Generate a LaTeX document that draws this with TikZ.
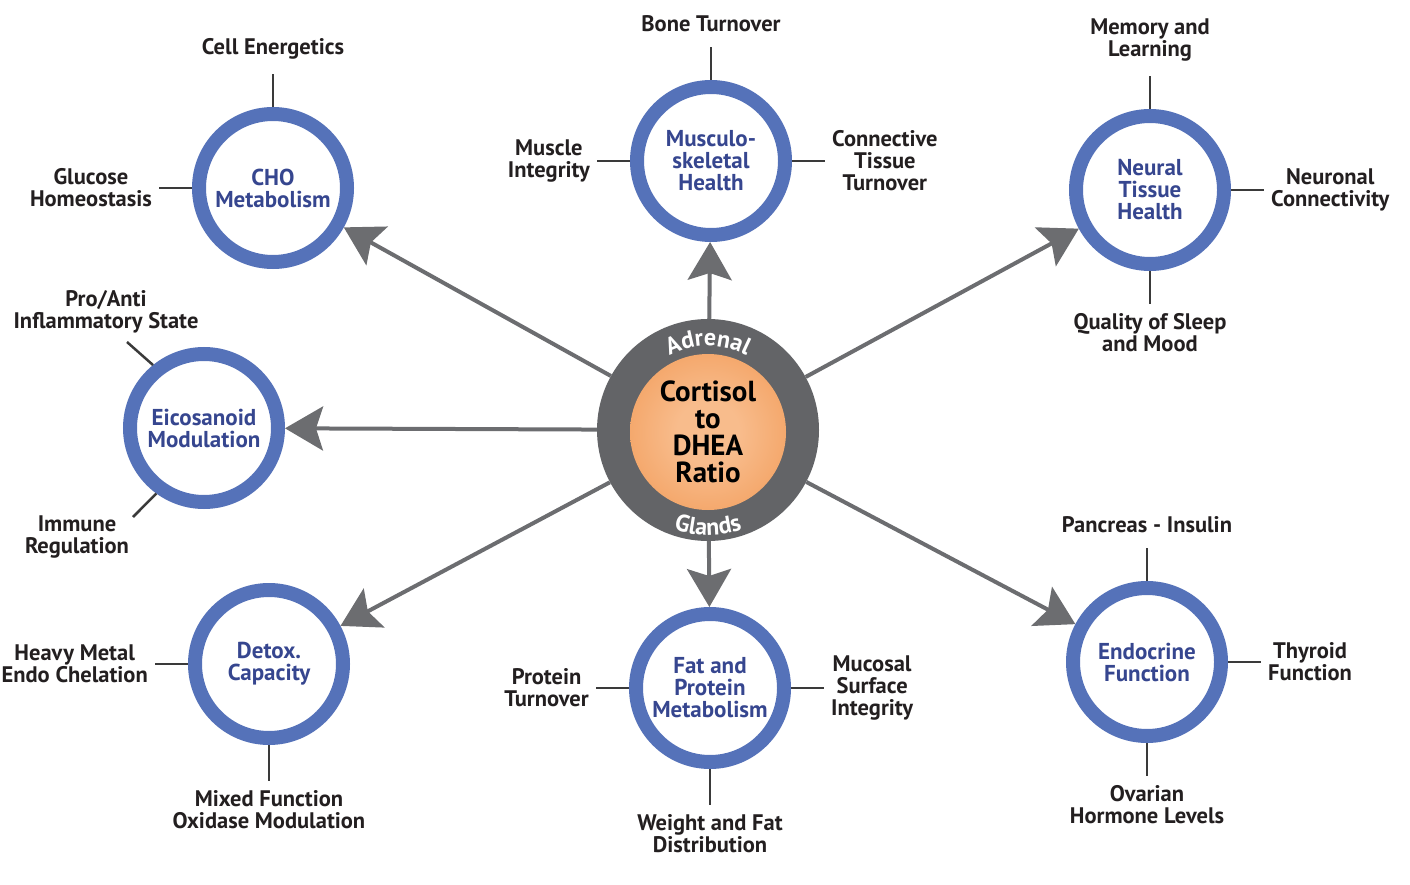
\documentclass[tikz,border=0pt]{standalone}
\usepackage{fontspec}
\setmainfont{PT Sans}
\usetikzlibrary{positioning,arrows.meta,decorations.text}

\definecolor{ringblue}{RGB}{85,114,185}
\definecolor{navy}{RGB}{54,70,143}
\definecolor{labelblack}{RGB}{35,31,32}
\definecolor{tickgray}{RGB}{58,58,58}
\definecolor{arrgray}{RGB}{108,109,112}
\definecolor{hubgray}{RGB}{99,100,103}
\definecolor{orangelt}{RGB}{248,188,140}
\definecolor{orangedk}{RGB}{238,136,58}
\pgfdeclareradialshading{orangeball}{\pgfpoint{0bp}{0bp}}{color(0bp)=(orangelt); color(10bp)=(orangelt); color(50bp)=(orangedk)}
\newcommand{\ringfont}{\fontsize{24}{24}\selectfont\bfseries\color{white}}

\begin{document}
\begin{tikzpicture}[x=1pt,y=1pt,node distance=33pt,
  sat/.style={circle,draw=ringblue,line width=14pt,minimum size=148pt,inner sep=0pt,align=center,text=navy,font=\fontsize{23}{22}\selectfont\bfseries},
  lbl/.style={align=center,inner xsep=7pt,inner ysep=9pt,text=labelblack,font=\fontsize{22.5}{22}\selectfont\bfseries},
  lbltop/.style={lbl,inner ysep=15pt},
  tick/.style={draw=tickgray,line width=2.5pt},
  arr/.style={draw=arrgray,line width=4pt,-{Stealth[length=38pt,width=44pt,inset=7pt]}}]
  \useasboundingbox (0,0) rectangle (1410,-885);

  \node[circle,fill=hubgray,minimum size=222pt,inner sep=0pt] (hub) at (708,-430) {};
  \node[circle,shading=orangeball,minimum size=156pt,inner sep=0pt,align=center,font=\fontsize{29}{27}\selectfont\bfseries] (ratio) at (708,-432) {Cortisol\\to\\DHEA\\Ratio};
  \path[decorate,decoration={text along path,text={|\ringfont|Adrenal},text align=center}] ([shift={(148:84)}]hub.center) arc[start angle=148,end angle=32,radius=84];
  \path[decorate,decoration={text along path,text={|\ringfont|Glands},text align=center}] ([shift={(212:105)}]hub.center) arc[start angle=212,end angle=328,radius=105];

  \node[sat] (cho) at (273,-188) {CHO\\Metabolism};
  \node[sat] (musc) at (711,-161) {Musculo-\\skeletal\\Health};
  \node[sat] (neural) at (1150,-190) {Neural\\Tissue\\Health};
  \node[sat] (eico) at (204,-428) {Eicosanoid\\Modulation};
  \node[sat] (detox) at (269,-664) {Detox.\\Capacity};
  \node[sat] (fatprot) at (710,-688) {Fat and\\Protein\\Metabolism};
  \node[sat] (endo) at (1147,-662) {Endocrine\\Function};

  \path (hub) edge[arr] (cho);
  \path (hub) edge[arr] (musc);
  \path (hub) edge[arr] (neural);
  \path (hub) edge[arr] (eico);
  \path (hub) edge[arr] (detox);
  \path (hub) edge[arr] (fatprot);
  \path (hub) edge[arr] (endo);

  \node[lbltop,above=of cho] (cellen) {Cell Energetics};
  \node[lbl,left=of cho] (glucose) {Glucose\\Homeostasis};
  \node[lbltop,above=of musc] (bone) {Bone Turnover};
  \node[lbl,left=of musc] (muscle) {Muscle\\Integrity};
  \node[lbl,right=of musc] (conntis) {Connective\\Tissue\\Turnover};
  \node[lbltop,above=of neural] (memory) {Memory and\\Learning};
  \node[lbl,right=of neural] (neuronal) {Neuronal\\Connectivity};
  \node[lbl,below=of neural] (sleep) {Quality of Sleep\\and Mood};
  \node[lbl] (proanti) at (106,-312) {Pro/Anti\\Inflammatory State};
  \node[lbl] (immune) at (77,-537) {Immune\\Regulation};
  \node[lbl,left=of detox] (heavy) {Heavy Metal\\Endo Chelation};
  \node[lbl,below=of detox,yshift=-3pt] (mixed) {Mixed Function\\Oxidase Modulation};
  \node[lbl,left=of fatprot] (protturn) {Protein\\Turnover};
  \node[lbl,right=of fatprot] (mucosal) {Mucosal\\Surface\\Integrity};
  \node[lbl,below=of fatprot,yshift=-3pt] (weight) {Weight and Fat\\Distribution};
  \node[lbltop,above=of endo] (pancreas) {Pancreas - Insulin};
  \node[lbl,right=of endo] (thyroid) {Thyroid\\Function};
  \node[lbl,below=of endo] (ovarian) {Ovarian\\Hormone Levels};

  \coordinate (proend) at (127,-342);
  \coordinate (immend) at (133,-517);
  \path (cho) edge[tick] (cellen) (cho) edge[tick] (glucose);
  \path (musc) edge[tick] (bone) (musc) edge[tick] (muscle) (musc) edge[tick] (conntis);
  \path (neural) edge[tick] (memory) (neural) edge[tick] (neuronal) (neural) edge[tick] (sleep);
  \path (eico.129) edge[tick] (proend) (eico.234) edge[tick] (immend);
  \path (detox) edge[tick] (heavy) (detox) edge[tick] (mixed);
  \path (fatprot) edge[tick] (protturn) (fatprot) edge[tick] (mucosal) (fatprot) edge[tick] (weight);
  \path (endo) edge[tick] (pancreas) (endo) edge[tick] (thyroid) (endo) edge[tick] (ovarian);
\end{tikzpicture}
\end{document}
